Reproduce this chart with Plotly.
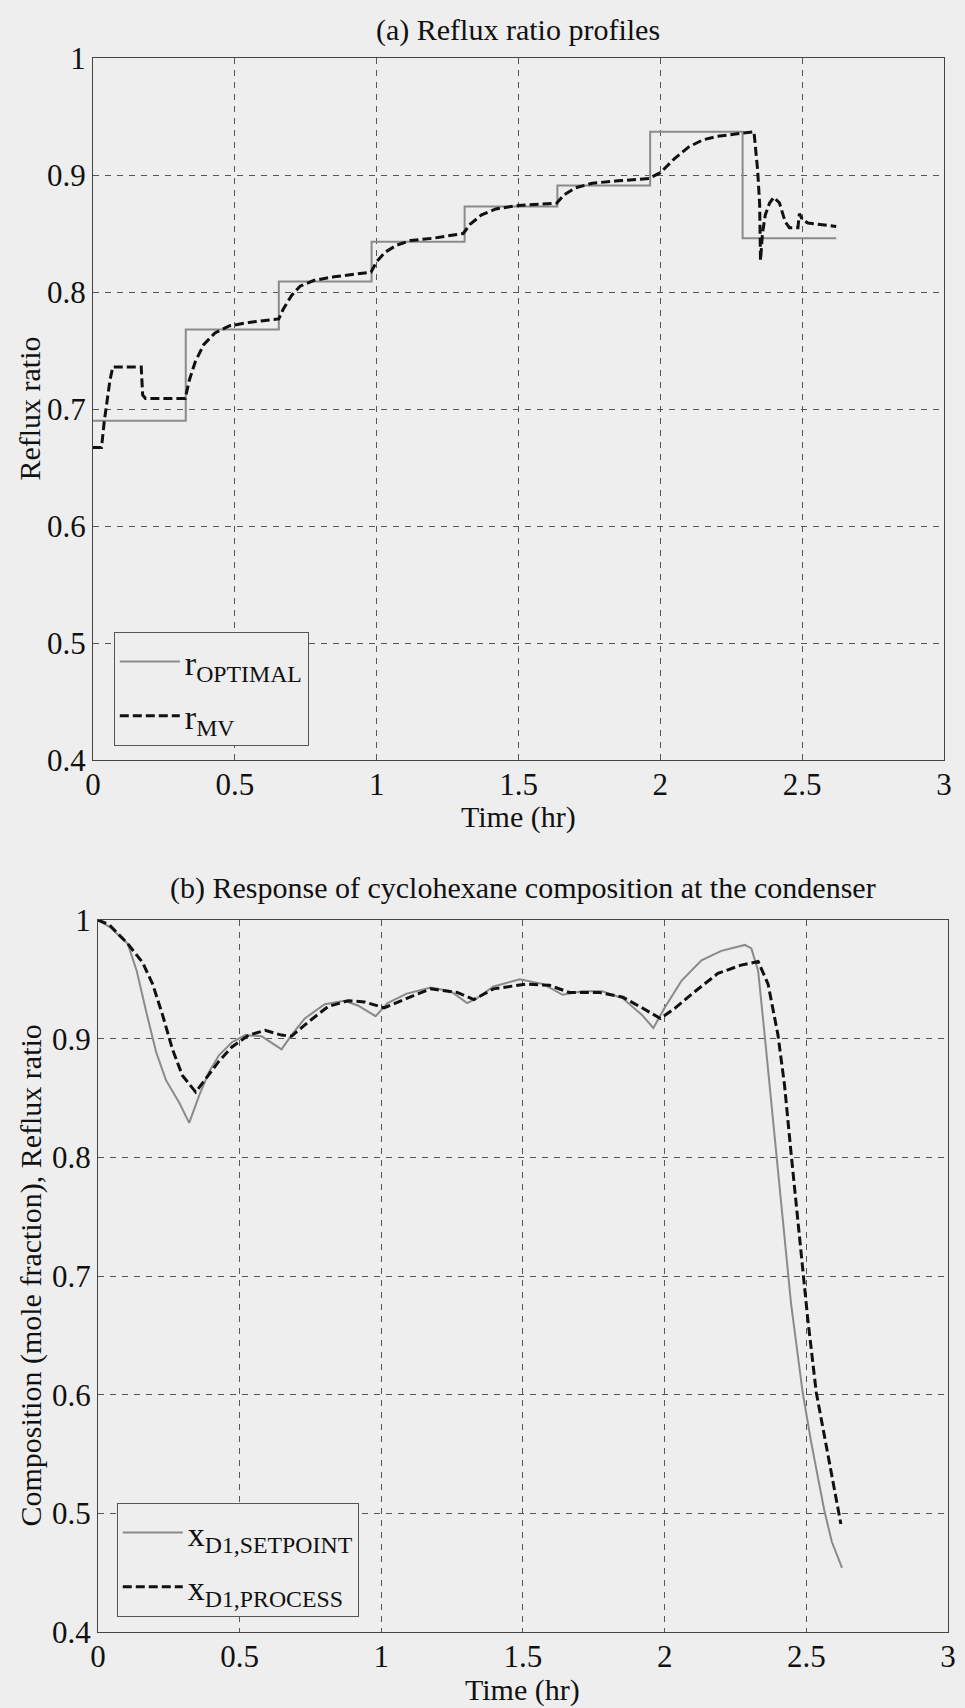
import plotly.graph_objects as go

# ---------------- data ----------------
# (a) reflux ratio profiles
t_opt = [0.0, 0.327, 0.655, 0.982, 1.31, 1.637, 1.964, 2.29, 2.62]
r_opt = [0.690, 0.768, 0.809, 0.843, 0.873, 0.891, 0.937, 0.846, 0.846]

t_mv = [0.0, 0.03, 0.04, 0.06, 0.07, 0.17, 0.175, 0.185, 0.325, 0.34, 0.36, 0.39,
        0.43, 0.48, 0.55, 0.655, 0.67, 0.70, 0.73, 0.78, 0.85, 0.98, 1.0, 1.03,
        1.07, 1.12, 1.2, 1.305, 1.33, 1.37, 1.42, 1.5, 1.635, 1.66, 1.70, 1.76,
        1.85, 1.96, 2.0, 2.05, 2.1, 2.15, 2.2, 2.3, 2.33, 2.343, 2.35, 2.353,
        2.36, 2.37, 2.385, 2.40, 2.42, 2.44, 2.455, 2.485, 2.49, 2.50, 2.52, 2.62]
r_mv = [0.667, 0.667, 0.69, 0.725, 0.736, 0.736, 0.712, 0.709, 0.709, 0.725, 0.74, 0.755,
        0.765, 0.771, 0.774, 0.777, 0.785, 0.797, 0.805, 0.810, 0.813, 0.817, 0.826, 0.834,
        0.840, 0.844, 0.846, 0.850, 0.858, 0.866, 0.871, 0.874, 0.876, 0.883, 0.889, 0.893,
        0.895, 0.897, 0.902, 0.914, 0.924, 0.930, 0.933, 0.936, 0.937, 0.904, 0.875, 0.827,
        0.850, 0.866, 0.876, 0.881, 0.876, 0.860, 0.855, 0.855, 0.867, 0.862, 0.859, 0.856]

# (b) cyclohexane composition at the condenser
t_sp = [0.0, 0.042, 0.105, 0.137, 0.17, 0.205, 0.24, 0.287, 0.322, 0.357, 0.392, 0.427,
        0.473, 0.52, 0.578, 0.648, 0.683, 0.73, 0.8, 0.87, 0.917, 0.98, 1.022, 1.09,
        1.175, 1.245, 1.303, 1.337, 1.396, 1.489, 1.572, 1.64, 1.71, 1.78, 1.852, 1.92,
        1.96, 2.0, 2.06, 2.13, 2.2, 2.283, 2.306, 2.33, 2.353, 2.377, 2.4, 2.423, 2.446,
        2.487, 2.517, 2.563, 2.59, 2.626]
x_sp = [1.0, 0.994, 0.98, 0.957, 0.923, 0.889, 0.865, 0.846, 0.829, 0.852, 0.872, 0.886,
        0.897, 0.903, 0.902, 0.891, 0.903, 0.917, 0.929, 0.932, 0.928, 0.919, 0.930, 0.938,
        0.943, 0.940, 0.930, 0.934, 0.944, 0.950, 0.946, 0.937, 0.940, 0.940, 0.934, 0.920,
        0.909, 0.926, 0.949, 0.966, 0.974, 0.979, 0.976, 0.957, 0.903, 0.846, 0.790, 0.734, 0.677,
        0.602, 0.560, 0.503, 0.476, 0.454]

t_pr = [0.0, 0.04, 0.105, 0.158, 0.193, 0.228, 0.263, 0.298, 0.345, 0.38, 0.427, 0.473,
        0.532, 0.59, 0.648, 0.683, 0.742, 0.812, 0.882, 0.94, 1.01, 1.09, 1.175, 1.268,
        1.327, 1.396, 1.512, 1.593, 1.663, 1.768, 1.852, 1.92, 1.985, 2.038, 2.108, 2.188,
        2.27, 2.33, 2.365, 2.4, 2.423, 2.446, 2.475, 2.493, 2.505, 2.535, 2.573, 2.622]
x_pr = [1.0, 0.996, 0.98, 0.964, 0.946, 0.92, 0.891, 0.869, 0.855, 0.866, 0.881, 0.893,
        0.903, 0.907, 0.903, 0.902, 0.914, 0.927, 0.932, 0.931, 0.926, 0.934, 0.942, 0.939,
        0.933, 0.942, 0.946, 0.945, 0.939, 0.939, 0.935, 0.926, 0.917, 0.926, 0.940, 0.955,
        0.962, 0.965, 0.946, 0.903, 0.861, 0.804, 0.734, 0.692, 0.664, 0.602, 0.552, 0.491]

x_ticks = [0, 0.5, 1, 1.5, 2, 2.5, 3]
x_tick_text = ["0", "0.5", "1", "1.5", "2", "2.5", "3"]
y_ticks = [0.4, 0.5, 0.6, 0.7, 0.8, 0.9, 1.0]
y_tick_text = ["0.4", "0.5", "0.6", "0.7", "0.8", "0.9", "1"]

# ---------------- styling ----------------
BG = "#eeeeee"
FONT = "Liberation Serif"
INK = "#111111"
GREY = "#8a8a8a"
W, H = 965, 1708
ML, MR, MT, MB = 93, 9, 58, 76
PW, PH = W - ML - MR, H - MT - MB


def px_x(p):
    return (p - ML) / PW


def px_y(p):
    return (H - MB - p) / PH


fig = go.Figure()

fig.add_trace(go.Scatter(x=t_opt, y=r_opt, mode="lines", line_shape="hv",
                         line=dict(color=GREY, width=2), name="r<sub>OPTIMAL</sub>",
                         legendgroup="a1", xaxis="x", yaxis="y", legend="legend"))
fig.add_trace(go.Scatter(x=t_mv, y=r_mv, mode="lines",
                         line=dict(color=INK, width=3, dash="9px,4px"),
                         name="r<sub>MV</sub>", legendgroup="a2",
                         xaxis="x", yaxis="y", legend="legend"))
fig.add_trace(go.Scatter(x=t_sp, y=x_sp, mode="lines",
                         line=dict(color=GREY, width=2), name="x<sub>D1,SETPOINT</sub>",
                         legendgroup="b1", xaxis="x2", yaxis="y2", legend="legend2"))
fig.add_trace(go.Scatter(x=t_pr, y=x_pr, mode="lines",
                         line=dict(color=INK, width=3, dash="9px,4px"),
                         name="x<sub>D1,PROCESS</sub>", legendgroup="b2",
                         xaxis="x2", yaxis="y2", legend="legend2"))

axis_common = dict(
    showline=True, linecolor="#444444", linewidth=1, mirror=True,
    showgrid=True, gridcolor="#555555", gridwidth=1, griddash="6px,6px",
    zeroline=False, ticks="", tickfont=dict(family=FONT, size=31, color=INK),
)

legend_common = dict(xanchor="left", yanchor="bottom", bgcolor=BG,
                     bordercolor="#555555", borderwidth=1, tracegroupgap=7,
                     itemwidth=60,
                     font=dict(family=FONT, size=34, color=INK))


def title_ann(text, xp, yp, angle=0):
    return dict(text=text, xref="paper", yref="paper", x=px_x(xp), y=px_y(yp),
                xanchor="center", yanchor="middle", showarrow=False, textangle=angle,
                font=dict(family=FONT, size=30, color=INK))


fig.update_layout(
    width=W, height=H,
    margin=dict(l=ML, r=MR, t=MT, b=MB),
    paper_bgcolor=BG, plot_bgcolor=BG,
    font=dict(family=FONT, size=30, color=INK),
    xaxis=dict(domain=[0, px_x(952)], range=[0, 3], tickvals=x_ticks, ticktext=x_tick_text,
               anchor="y", ticklabelstandoff=-3, **axis_common),
    yaxis=dict(domain=[px_y(760), 1.0], range=[0.4, 1.0], tickvals=y_ticks, ticktext=y_tick_text,
               anchor="x", **axis_common),
    xaxis2=dict(domain=[px_x(98), 1.0], range=[0, 3], tickvals=x_ticks, ticktext=x_tick_text,
                anchor="y2", ticklabelstandoff=-3, **axis_common),
    yaxis2=dict(domain=[0, px_y(920)], range=[0.4, 1.0], tickvals=y_ticks, ticktext=y_tick_text,
                anchor="x2", **axis_common),
    legend=dict(x=px_x(114), y=px_y(746), **legend_common),
    legend2=dict(x=px_x(117), y=px_y(1617), **legend_common),
    showlegend=True,
    annotations=[
        title_ann("(a) Reflux ratio profiles", 522, 30),
        title_ann("(b) Response of cyclohexane composition at the condenser", 527, 888),
        title_ann("Time (hr)", 522, 817),
        title_ann("Time (hr)", 527, 1690),
        title_ann("Reflux ratio", 28, 409, -90),
        title_ann("Composition (mole fraction), Reflux ratio", 30, 1276, -90),
    ],
)

fig.write_html("out.html")
